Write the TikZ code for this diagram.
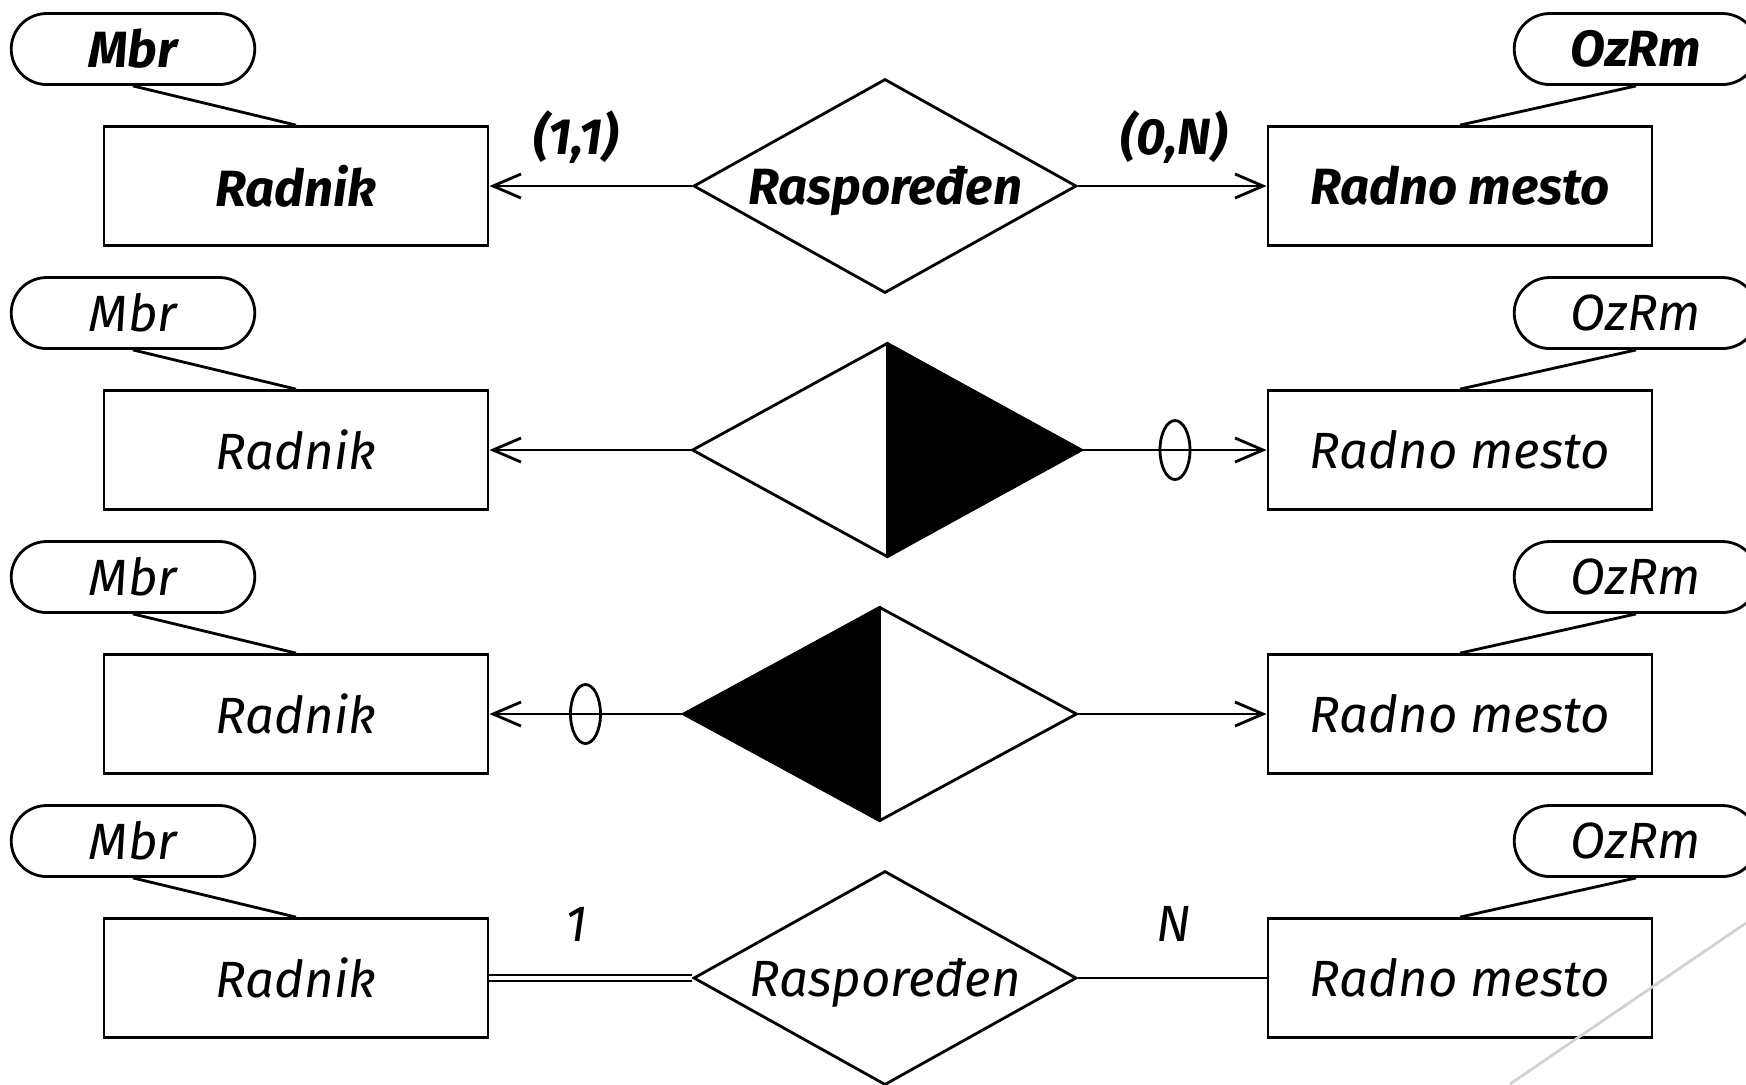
\documentclass[tikz,border=0pt]{standalone}
\usepackage{fontspec}
\setmainfont{Fira Sans}
\usetikzlibrary{shapes.geometric,shapes.misc,arrows.meta}

\newcommand{\erfont}{\fontsize{14.5}{17}\selectfont\itshape}

\begin{document}
\begin{tikzpicture}[
    entity/.style={rectangle, draw, thick, minimum width=3.84cm, minimum height=1.19cm, font=\erfont},
    relation/.style={diamond, draw, thick, minimum width=3.83cm, minimum height=2.14cm, inner sep=0pt, aspect=1.8, font=\erfont},
    attribute/.style={rounded rectangle, draw, thick, minimum width=2.67cm, minimum height=0.71cm, font=\erfont},
    card/.style={font=\erfont},
    strong/.style={font=\erfont\bfseries},
    ring/.style={ellipse, draw, thick, minimum width=0.3cm, minimum height=0.59cm, inner sep=0pt},
    flow/.style={-{Straight Barb[length=2.8mm,width=2.4mm]}, thick},
    link/.style={thick}
]
\useasboundingbox (0,0) rectangle (17.46,-10.84);

% Row 1 - min-max notation
\node[attribute, strong] (mbrA) at (1.33,-0.49) {Mbr};
\node[entity, strong] (radnikA) at (2.96,-1.86) {Radnik};
\node[relation, strong, text depth=0.1ex] (rasA) at (8.85,-1.86) {Raspoređen};
\node[entity, strong] (mestoA) at (14.60,-1.86) {Radno mesto};
\node[attribute, strong] (ozrmA) at (16.36,-0.49) {OzRm};
\node[card, strong] (cardA1) at (5.76,-1.37) {(1,1)};
\node[card, strong] (cardA2) at (11.74,-1.37) {(0,N)};

\draw[link] (mbrA.south) -- (radnikA.north);
\draw[link] (ozrmA.south) -- (mestoA.north);
\draw[flow] (rasA) -- (radnikA);
\draw[flow] (rasA) -- (mestoA);

% Row 2 - half filled, optional on the right
\node[attribute] (mbrB) at (1.33,-3.13) {Mbr};
\node[entity] (radnikB) at (2.96,-4.50) {Radnik};
\node[relation, minimum width=3.90cm] (rasB) at (8.87,-4.50) {};
\node[entity] (mestoB) at (14.60,-4.50) {Radno mesto};
\node[attribute] (ozrmB) at (16.36,-3.13) {OzRm};

\fill (rasB.north) -- (rasB.east) -- (rasB.south) -- cycle;
\draw[link] (rasB.north) -- (rasB.south);
\draw[link] (mbrB.south) -- (radnikB.north);
\draw[link] (ozrmB.south) -- (mestoB.north);
\draw[flow] (rasB) -- (radnikB);
\draw[flow] (rasB) -- node[ring, pos=0.5] (ringB) {} (mestoB);

% Row 3 - half filled, optional on the left
\node[attribute] (mbrC) at (1.33,-5.77) {Mbr};
\node[entity] (radnikC) at (2.96,-7.14) {Radnik};
\node[relation, minimum width=3.94cm] (rasC) at (8.80,-7.14) {};
\node[entity] (mestoC) at (14.60,-7.14) {Radno mesto};
\node[attribute] (ozrmC) at (16.36,-5.77) {OzRm};

\fill (rasC.north) -- (rasC.west) -- (rasC.south) -- cycle;
\draw[link] (rasC.north) -- (rasC.south);
\draw[link] (mbrC.south) -- (radnikC.north);
\draw[link] (ozrmC.south) -- (mestoC.north);
\draw[flow] (rasC) -- node[ring, pos=0.5] (ringC) {} (radnikC);
\draw[flow] (rasC) -- (mestoC);

% Row 4 - Chen notation
\node[attribute] (mbrD) at (1.33,-8.41) {Mbr};
\node[entity] (radnikD) at (2.96,-9.78) {Radnik};
\node[relation, text depth=0.1ex] (rasD) at (8.85,-9.78) {Raspoređen};
\node[entity] (mestoD) at (14.60,-9.78) {Radno mesto};
\node[attribute] (ozrmD) at (16.36,-8.41) {OzRm};
\node[card] (cardD1) at (5.76,-9.24) {1};
\node[card] (cardD2) at (11.74,-9.24) {N};

\draw[link] (mbrD.south) -- (radnikD.north);
\draw[link] (ozrmD.south) -- (mestoD.north);
\draw[link, double, double distance=1.4pt, line width=0.5pt] (radnikD) -- (rasD);
\draw[link] (rasD) -- (mestoD);

% slide decoration
\draw[gray!35, thick] (15.10,-10.84) -- (17.46,-9.23);

\end{tikzpicture}
\end{document}
